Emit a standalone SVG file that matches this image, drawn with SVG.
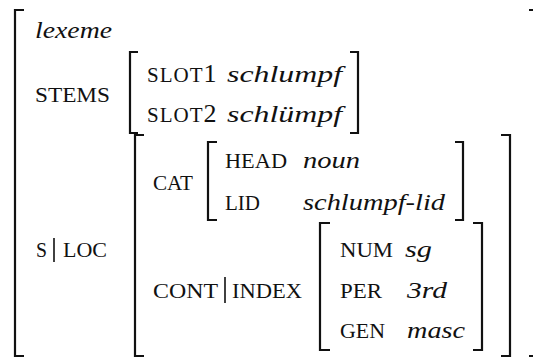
<svg xmlns="http://www.w3.org/2000/svg" width="533" height="358" viewBox="0 0 533 358">
<style>
  text { font-family: "Liberation Serif", "Times New Roman", serif; fill: #111; }
  .i { font-style: italic; font-size: 24px; }
  .sc { font-size: 21px; }
  .d { font-size: 26px; }
  .br { fill: none; stroke: #111; stroke-width: 2.2; stroke-linecap: butt; }
  .bar { stroke: #111; stroke-width: 1.6; }
</style>
<rect width="533" height="358" fill="#fff"/>

<g id="outer">
  <path class="br" d="M24 10 H15 V356 H24"/>
  <path class="br" d="M529 10 H540 V356 H529"/>
  <text class="i" x="35" y="38" textLength="77" lengthAdjust="spacingAndGlyphs">lexeme</text>
  <text class="sc" x="35" y="102" textLength="75" lengthAdjust="spacingAndGlyphs">STEMS</text>
  <text class="sc" x="36" y="257" textLength="11" lengthAdjust="spacingAndGlyphs">S</text>
  <line class="bar" x1="54" y1="238" x2="54" y2="262"/>
  <text class="sc" x="63" y="257" textLength="44" lengthAdjust="spacingAndGlyphs">LOC</text>
</g>

<g id="stems">
  <path class="br" d="M138 52 H130 V133 H138"/>
  <path class="br" d="M350 52 H358 V133 H350"/>
  <text class="sc" x="147" y="82" letter-spacing="1">SLOT<tspan class="d" letter-spacing="0">1</tspan></text>
  <text class="i" x="227" y="82" textLength="115" lengthAdjust="spacingAndGlyphs">schlumpf</text>
  <text class="sc" x="147" y="122" letter-spacing="1">SLOT<tspan class="d" letter-spacing="0">2</tspan></text>
  <text class="i" x="227" y="122" textLength="115" lengthAdjust="spacingAndGlyphs">schlümpf</text>
</g>

<g id="sloc">
  <path class="br" d="M144 135 H135 V356 H144"/>
  <path class="br" d="M501 135 H510 V356 H501"/>
  <text class="sc" x="153" y="190" textLength="40" lengthAdjust="spacingAndGlyphs">CAT</text>
  <text class="sc" x="153" y="298" textLength="65" lengthAdjust="spacingAndGlyphs">CONT</text>
  <line class="bar" x1="225" y1="277" x2="225" y2="303"/>
  <text class="sc" x="232" y="298" textLength="70" lengthAdjust="spacingAndGlyphs">INDEX</text>
</g>

<g id="cat">
  <path class="br" d="M217 142 H208 V220 H217"/>
  <path class="br" d="M455 142 H463 V220 H455"/>
  <text class="sc" x="225" y="168" textLength="62" lengthAdjust="spacingAndGlyphs">HEAD</text>
  <text class="i" x="303" y="168" textLength="57" lengthAdjust="spacingAndGlyphs">noun</text>
  <text class="sc" x="225" y="210" textLength="35" lengthAdjust="spacingAndGlyphs">LID</text>
  <text class="i" x="303" y="210" textLength="142" lengthAdjust="spacingAndGlyphs">schlumpf-lid</text>
</g>

<g id="index">
  <path class="br" d="M330 223 H320 V350 H330"/>
  <path class="br" d="M473 223 H482 V350 H473"/>
  <text class="sc" x="340" y="257" textLength="53" lengthAdjust="spacingAndGlyphs">NUM</text>
  <text class="i" x="405" y="257" textLength="27" lengthAdjust="spacingAndGlyphs">sg</text>
  <text class="sc" x="340" y="298" textLength="42" lengthAdjust="spacingAndGlyphs">PER</text>
  <text class="i" x="407" y="298" textLength="40" lengthAdjust="spacingAndGlyphs">3rd</text>
  <text class="sc" x="340" y="338" textLength="45" lengthAdjust="spacingAndGlyphs">GEN</text>
  <text class="i" x="407" y="338" textLength="58" lengthAdjust="spacingAndGlyphs">masc</text>
</g>
</svg>
